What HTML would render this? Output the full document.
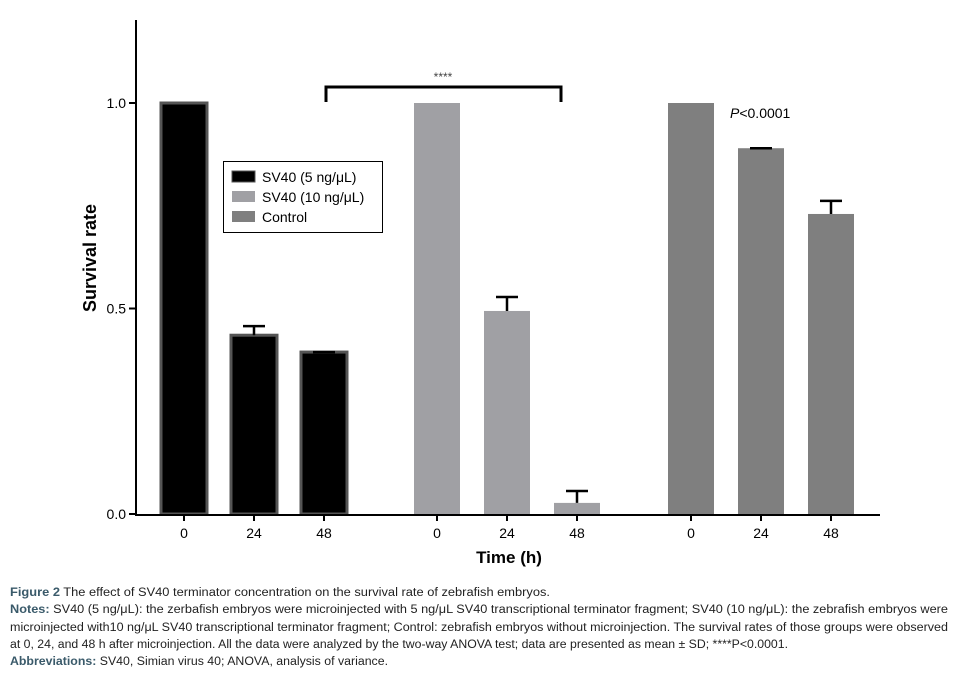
<!DOCTYPE html>
<html><head><meta charset="utf-8"><style>
body{margin:0;background:#fff}
svg text{font-family:"Liberation Sans",sans-serif}
</style></head><body>
<svg width="957" height="675" viewBox="0 0 957 675">
<g id="plot"></g>
<g>
<line x1="136" y1="20" x2="136" y2="515" stroke="#000" stroke-width="2"/>
</g>
<line x1="135" y1="515" x2="880" y2="515" stroke="#000" stroke-width="2"/>
<text x="96" y="258" font-size="18" font-weight="bold" text-anchor="middle" transform="rotate(-90 96 258)">Survival rate</text>
<text x="509" y="563" font-size="17" font-weight="bold" text-anchor="middle">Time (h)</text>
<g>
<path d="M326,102 V87 H561 V102" fill="none" stroke="#000" stroke-width="3"/>
<text x="443" y="81" font-size="12" fill="#444" text-anchor="middle">****</text>
</g>
<text x="730" y="118" font-size="14"><tspan font-style="italic">P</tspan>&lt;0.0001</text>
<g>
<rect x="223.5" y="161.5" width="159" height="71" fill="#fff" stroke="#000"/>
<rect x="232" y="171" width="23" height="11" fill="#000" stroke="#555"/>
<text x="262" y="182" font-size="14">SV40 (5 ng/μL)</text>
<rect x="232" y="191" width="23" height="11" fill="#a0a0a4"/>
<text x="262" y="202" font-size="14">SV40 (10 ng/μL)</text>
<rect x="232" y="211" width="23" height="11" fill="#7f7f7f"/>
<text x="262" y="222" font-size="14">Control</text>
</g>
<g font-size="11.5" fill="#222">
<text x="10" y="596" textLength="540" lengthAdjust="spacingAndGlyphs"><tspan font-weight="bold" fill="#3a5a6a">Figure 2</tspan> The effect of SV40 terminator concentration on the survival rate of zebrafish embryos.</text>
<text x="10" y="613" textLength="938" lengthAdjust="spacingAndGlyphs"><tspan font-weight="bold" fill="#3a5a6a">Notes:</tspan> SV40 (5 ng/μL): the zerbafish embryos were microinjected with 5 ng/μL SV40 transcriptional terminator fragment; SV40 (10 ng/μL): the zebrafish embryos were</text>
<text x="10" y="631" textLength="938" lengthAdjust="spacingAndGlyphs">microinjected with10 ng/μL SV40 transcriptional terminator fragment; Control: zebrafish embryos without microinjection. The survival rates of those groups were observed</text>
<text x="10" y="648" textLength="778" lengthAdjust="spacingAndGlyphs">at 0, 24, and 48 h after microinjection. All the data were analyzed by the two-way ANOVA test; data are presented as mean ± SD; ****P&lt;0.0001.</text>
<text x="10" y="665" textLength="378" lengthAdjust="spacingAndGlyphs"><tspan font-weight="bold" fill="#3a5a6a">Abbreviations:</tspan> SV40, Simian virus 40; ANOVA, analysis of variance.</text>
</g>
</svg>
<script>
const timeLabels = ["0","24","48"];
const groups = ["SV40 (5 ng/μL)","SV40 (10 ng/μL)","Control"];
const sv40_5 = [1.0, 0.435, 0.394];
const sv40_5_sd = [0, 0.022, 0];
const sv40_10 = [1.0, 0.494, 0.027];
const sv40_10_sd = [0, 0.034, 0.029];
const control = [1.0, 0.89, 0.73];
const control_sd = [0, 0, 0.032];
const yTicks = [0.0, 0.5, 1.0];
const yTickLabels = ["0.0","0.5","1.0"];

const NS="http://www.w3.org/2000/svg";
const y = v => 514 - v*411;
const groupStart = [184, 437, 691];
const x = (g,i) => groupStart[g] + i*70;
const plot = document.getElementById('plot');
function mk(tag, attrs){const e=document.createElementNS(NS,tag);for(const k in attrs)e.setAttribute(k,attrs[k]);plot.appendChild(e);return e;}
yTicks.forEach((t,k)=>{
  const l=mk('line',{x1:129,x2:136,y1:y(t),y2:y(t),stroke:'#000','stroke-width':2});
  
  
  const tx=mk('text',{x:126,y:y(t)+5,'font-size':14,'text-anchor':'end'});
  tx.textContent=yTickLabels[k];
  
  
});
const series=[[sv40_5,sv40_5_sd,'#000','#555'],[sv40_10,sv40_10_sd,'#a0a0a4','none'],[control,control_sd,'#7f7f7f','none']];
series.forEach((s,g)=>{
  s[0].forEach((v,i)=>{
    const cx=x(g,i), w=46;
    const r=mk('rect',{x:cx-w/2,y:y(v),width:w,height:514-y(v),fill:s[2],stroke:s[3],'stroke-width':3});
    
    
    const sd=s[1][i];
    if(sd>0){
      const e=mk('path',{d:`M${cx},${y(v)} V${y(v+sd)} M${cx-11},${y(v+sd)} H${cx+11}`,stroke:'#000','stroke-width':2.5,fill:'none'});
      
      
    } else if(i>0){
      const e=mk('path',{d:`M${cx-11},${y(v)} H${cx+11}`,stroke:'#000','stroke-width':2.5});
      
      
    }
    const tk=mk('line',{x1:cx,x2:cx,y1:515,y2:521,stroke:'#000','stroke-width':2});
    
    
    const t=mk('text',{x:cx,y:538,'font-size':14,'text-anchor':'middle'});
    t.textContent=timeLabels[i];
    
    
  });
});
</script>
</body></html>
